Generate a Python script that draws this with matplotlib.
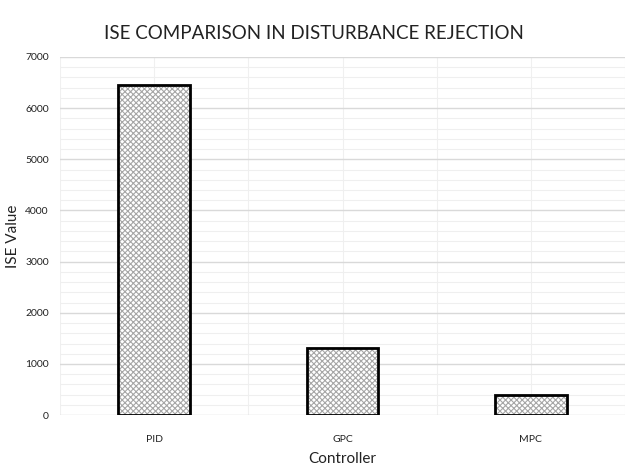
import matplotlib.pyplot as plt
from matplotlib.ticker import MultipleLocator

controllers = ["PID", "GPC", "MPC"]
ise_values = [6450, 1310, 400]

plt.rcParams['font.family'] = ['Lato', 'DejaVu Sans']
plt.rcParams['hatch.linewidth'] = 0.8

fig = plt.figure(figsize=(6.25, 4.67), dpi=100)
ax = fig.add_axes([0.096, 0.111, 0.904, 0.767])

x = list(range(len(controllers)))
# hatch fill first, then black outline on top
ax.bar(x, ise_values, width=0.38, color="white", edgecolor="#a6a6a6",
       hatch="xxxxxx", linewidth=0, zorder=3)
ax.bar(x, ise_values, width=0.38, fill=False, edgecolor="black",
       linewidth=2, zorder=4)

ax.set_xlim(-0.5, 2.5)
ax.set_ylim(0, 7000)
ax.yaxis.set_major_locator(MultipleLocator(1000))
ax.yaxis.set_minor_locator(MultipleLocator(200))
ax.set_xticks(x)
ax.set_xticklabels(controllers)
ax.set_xticks([-0.5, 0.5, 1.5, 2.5], minor=True)

ax.grid(which="major", axis="y", color="#d9d9d9", linewidth=1, zorder=0)
ax.grid(which="minor", axis="y", color="#efefef", linewidth=0.8, zorder=0)
ax.grid(which="both", axis="x", color="#f0f0f0", linewidth=0.8, zorder=0)

for s in ax.spines.values():
    s.set_visible(False)
ax.tick_params(which="both", length=0)
ax.tick_params(axis="both", labelsize=7.5, colors="#222222")
ax.tick_params(axis="x", pad=14)
ax.tick_params(axis="y", pad=8)

ax.set_title("ISE COMPARISON IN DISTURBANCE REJECTION", fontsize=13.5,
             color="#222222", pad=13, x=0.45)
ax.set_xlabel("Controller", fontsize=11, color="#222222", labelpad=6)
ax.set_ylabel("ISE Value", fontsize=11, color="#222222", labelpad=4)

fig.savefig("out.png", dpi=100)
